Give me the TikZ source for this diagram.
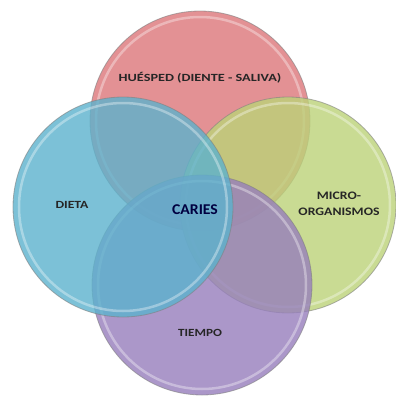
\documentclass[tikz,border=0pt]{standalone}
\usepackage{fontspec}
\setmainfont{Carlito}
\definecolor{cred}{RGB}{220,118,122}
\definecolor{cblue}{RGB}{92,178,205}
\definecolor{cgreen}{RGB}{188,210,120}
\definecolor{cpurple}{RGB}{150,126,188}
\tikzset{
  venn/.style={circle, minimum size=220bp, inner sep=0pt, fill opacity=0.8, draw=black!50, draw opacity=0.6, line width=0.8bp},
  rim/.style={white, line width=2.5bp, opacity=0.35},
  lbl/.style={text=black!85, align=center, inner sep=0pt}
}
\newcommand{\wide}[2]{\scalebox{#1}[1]{#2}}
\begin{document}
\begin{tikzpicture}[x=1bp,y=-1bp]
\useasboundingbox (0,0) rectangle (396,397);
\fill[white] (0,0) rectangle (396,397);
% red
\node[venn, fill=cred] (red) at (200,121) {};
\draw[rim] (200,121) circle[radius=104];
% green
\node[venn, fill=cgreen, minimum size=216bp] (green) at (288,205) {};
\draw[rim] (288,205) circle[radius=102];
% purple
\node[venn, fill=cpurple] (purple) at (202,285) {};
\draw[rim] (202,285) circle[radius=104];
% blue
\node[venn, fill=cblue] (blue) at (123,207) {};
\draw[rim] (123,207) circle[radius=104];
% labels
\node[lbl, font=\bfseries\fontsize{11}{13}\selectfont] (huesped) at (200,78) {\wide{1.3}{HUÉSPED (DIENTE - SALIVA)}};
\node[lbl, font=\bfseries\fontsize{11}{13}\selectfont] (dieta) at (72,205) {\wide{1.25}{DIETA}};
\node[lbl, font=\bfseries\fontsize{15}{17}\selectfont, text=black!75!blue] (caries) at (195,210) {\wide{1.05}{CARIES}};
\node[lbl, font=\bfseries\fontsize{11.5}{16.5}\selectfont] (micro) at (339,204) {\wide{1.2}{MICRO-}\\\wide{1.2}{ORGANISMOS}};
\node[lbl, font=\bfseries\fontsize{11}{13}\selectfont] (tiempo) at (200,333) {\wide{1.2}{TIEMPO}};
\end{tikzpicture}
\end{document}
